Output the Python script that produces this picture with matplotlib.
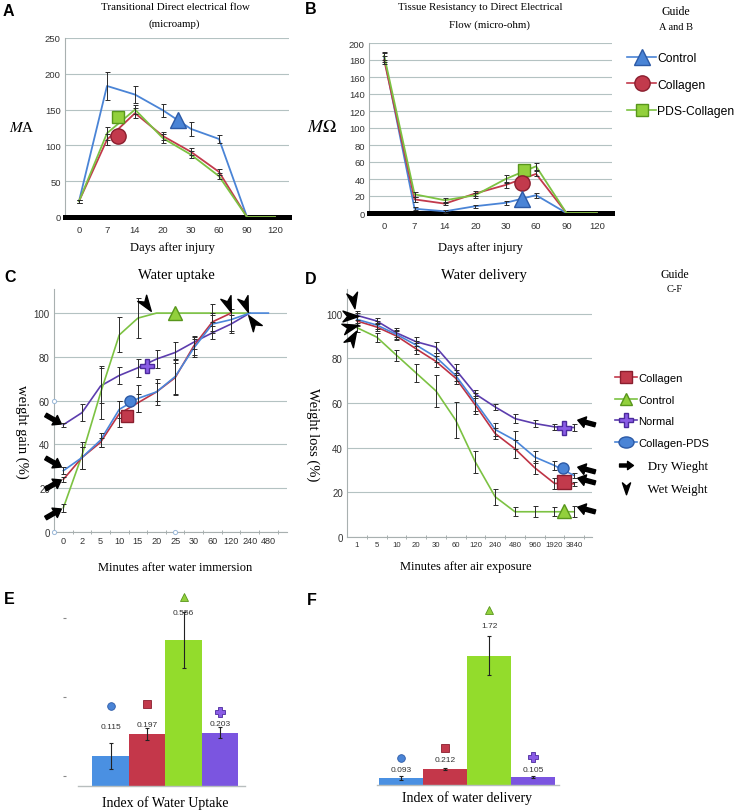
import numpy as np
import matplotlib.pyplot as plt
from matplotlib.lines import Line2D
from matplotlib.path import Path
from matplotlib.markers import MarkerStyle
from matplotlib.transforms import Affine2D

plt.rcParams['mathtext.fontset'] = 'stix'

W, H = 741, 812
SERIF = 'Liberation Serif'
SANS = 'Liberation Sans'
NARROW = ['Liberation Sans Narrow', 'Liberation Sans']

# ---- A / B : days after injury
days = ['0', '7', '14', '20', '30', '60', '90', '120']
a_control = [22, 183, 171, 149, 123, 109, 0, 0]
a_control_err = [2, 20, 12, 9, 10, 6, 0, 0]
a_collagen = [22, 108, 145, 113, 91, 63, 0, 0]
a_collagen_err = [2, 8, 7, 6, 5, 4, 0, 0]
a_pds = [22, 117, 150, 110, 87, 57, 0, 0]
a_pds_err = [2, 9, 6, 6, 5, 4, 0, 0]

b_control = [183, 5, 2, 8, 12, 21, 0, 0]
b_control_err = [5, 2, 1.5, 2, 2, 3, 0, 0]
b_collagen = [180, 16, 11, 23, 33, 46, 0, 0]
b_collagen_err = [5, 3, 2, 3, 4, 3, 0, 0]
b_pds = [185, 22, 15, 21, 40, 55, 0, 0]
b_pds_err = [5, 3, 3, 3, 5, 4, 0, 0]

# ---- C : water uptake
c_minutes = ['0', '2', '5', '10', '15', '20', '25', '30', '60', '120', '240', '480']
c_normal = [49, 54.5, 66.7, 71.5, 75, 79, 82, 86.7, 91, 95, 100]
c_normal_err = [1, 4, 8, 4, 4, 4, 5, 3, 3, 4, 0]
c_control = [11, 35, 63.6, 90, 97.7, 100, 100, 100, 100, 100, 100]
c_control_err = [2, 6, 12, 8, 9, 0, 0, 0, 4, 0, 0]
c_pds = [28, 34, 42, 56, 61, 64, 71, 84, 95, 97, 100, 100]
c_pds_err = [1.5, 5, 3, 4, 6, 6, 8, 4, 4, 5, 0, 0]
c_collagen = [24, 34, 41, 54, 59, 64, 70.5, 85, 96, 100]
c_collagen_err = [1, 5, 2, 6, 4, 4, 8, 4, 4, 0]

# ---- D : water delivery
d_minutes = ['1', '5', '10', '20', '30', '60', '120', '240', '480', '960', '1920', '3840']
d_normal = [99.2, 96.7, 91.4, 87.4, 85, 74.9, 64, 58.2, 53, 50.8, 49.3, 49]
d_normal_err = [2, 1.5, 2, 2, 2.5, 2.5, 2, 1.5, 2, 1.5, 1.5, 1.5]
d_pds = [97.4, 94.9, 90.7, 85.9, 80.5, 72.3, 60.3, 48.1, 43.3, 35.8, 32, 27.5]
d_pds_err = [3, 2, 2, 2, 2, 2.5, 4, 3, 4, 2.5, 2, 1]
d_collagen = [96.7, 94, 90, 84.2, 78.6, 71.1, 59, 46.3, 39.5, 31, 24, 23.8]
d_collagen_err = [2, 2, 2, 2.5, 2.5, 2.5, 4, 2.5, 4, 3, 2.5, 1]
d_control = [93.7, 89.5, 81.4, 73.4, 65.4, 52.3, 33.5, 18, 11.3, 11.3, 11.3, 11.3]
d_control_err = [2, 2, 2.5, 4, 7, 8, 5, 3.5, 2, 2.5, 2, 2.5]

# ---- E / F : indexes (order: Collagen-PDS, Collagen, Control, Normal)
e_values = [0.115, 0.197, 0.556, 0.203]
e_err = [0.05, 0.023, 0.107, 0.021]
f_values = [0.093, 0.212, 1.72, 0.105]
f_err = [0.025, 0.01, 0.26, 0.015]

# annotation layout (label markers / value text heights)
e_text_y = [0.229, 0.233, 0.664, 0.240]
e_mark_y = [0.305, 0.313, 0.720, 0.282]
f_text_y = [0.213, 0.333, 2.12, 0.213]
f_mark_y = [0.36, 0.49, 2.33, 0.37]

# colours
BLUE, BLUE_E = '#4A84D6', '#2C5AA6'
RED, RED_E = '#C23A4C', '#8A1E2E'
GREEN, GREEN_E = '#92D03C', '#58961C'
PURPLE, PURPLE_E = '#8A5CE6', '#4B2A9C'
L_BLUE, L_RED, L_GREEN, L_PURPLE = '#4A86DA', '#BE3345', '#7CC242', '#5C3DAE'
GRID = '#B4C2C2'


def rect(l, t, r, b):
    return [l / W, 1 - b / H, (r - l) / W, (b - t) / H]


def fx(x):
    return x / W


def fy(y):
    return 1 - y / H


# custom markers
wet_path = Path([(1, 0), (-0.9, 0.65), (-0.35, 0), (-0.9, -0.65), (1, 0)],
                [Path.MOVETO, Path.LINETO, Path.LINETO, Path.LINETO, Path.CLOSEPOLY])
dry_path = Path([(-1, -0.22), (0.15, -0.22), (0.15, -0.6), (1, 0), (0.15, 0.6),
                 (0.15, 0.22), (-1, 0.22), (-1, -0.22)],
                [Path.MOVETO] + [Path.LINETO] * 6 + [Path.CLOSEPOLY])


def wet(angle):
    return MarkerStyle(wet_path, transform=Affine2D().rotate_deg(angle))


def dry(angle):
    return MarkerStyle(dry_path, transform=Affine2D().rotate_deg(angle))


def errs(ax, x, y, e):
    idx = [i for i in range(len(y)) if e[i] > 0]
    ax.errorbar([x[i] for i in idx], [y[i] for i in idx], yerr=[e[i] for i in idx],
                fmt='none', ecolor='#2a2a2a', elinewidth=0.7, capsize=1.8, capthick=0.7, zorder=4)


fig = plt.figure(figsize=(W / 100, H / 100), dpi=100)


def ab_panel(box, series, ymax, ystep):
    ax = fig.add_axes(rect(*box))
    x = np.arange(len(days))
    for vals, er, col in series:
        ax.plot(x, vals, color=col, lw=1.3, zorder=3)
        errs(ax, x, vals, er)
    ax.set_xlim(-0.5, len(days) - 0.5)
    ax.set_ylim(0, ymax)
    ax.set_yticks(np.arange(0, ymax + 1, ystep))
    ax.set_xticks(x)
    ax.set_xticklabels(days)
    ax.grid(axis='y', color=GRID, lw=0.8)
    ax.set_axisbelow(True)
    for s in ['top', 'right']:
        ax.spines[s].set_visible(False)
    ax.spines['left'].set_color('#A8B0B0')
    ax.spines['left'].set_linewidth(0.8)
    ax.spines['bottom'].set_color('black')
    ax.spines['bottom'].set_linewidth(3.6)
    ax.tick_params(length=0, labelsize=6.8, labelcolor='#333333', pad=3)
    for t in ax.get_xticklabels() + ax.get_yticklabels():
        t.set_family(SANS)
    return ax


# ---------------- A
axA = ab_panel((65, 39, 289, 218),
               [(a_control, a_control_err, BLUE), (a_collagen, a_collagen_err, RED),
                (a_pds, a_pds_err, L_GREEN)], 250, 50)
axA.tick_params(axis='x', pad=6)
axA.plot([1.4], [140], 's', ms=8, mfc=GREEN, mec=GREEN_E, zorder=5)
axA.plot([1.4], [113], 'o', ms=11, mfc=RED, mec=RED_E, zorder=5)
axA.plot([3.55], [136], '^', ms=11, mfc=BLUE, mec=BLUE_E, zorder=5)

# ---------------- B
axB = ab_panel((369, 44, 612, 214),
               [(b_control, b_control_err, BLUE), (b_collagen, b_collagen_err, RED),
                (b_pds, b_pds_err, L_GREEN)], 200, 20)
axB.tick_params(axis='x', pad=6)
axB.plot([4.6], [51], 's', ms=8, mfc=GREEN, mec=GREEN_E, zorder=5)
axB.plot([4.55], [35], 'o', ms=11, mfc=RED, mec=RED_E, zorder=5)
axB.plot([4.55], [17], '^', ms=11, mfc=BLUE, mec=BLUE_E, zorder=5)


def cd_panel(box, labels, xlim, xsize):
    ax = fig.add_axes(rect(*box))
    ax.set_xlim(*xlim)
    ax.set_ylim(0, 111)
    ax.set_yticks(np.arange(0, 101, 20))
    ax.set_xticks(np.arange(len(labels)))
    ax.set_xticklabels(labels)
    ax.set_xticks(np.arange(len(labels)) + 0.5, minor=True)
    ax.grid(axis='y', color=GRID, lw=0.8)
    ax.set_axisbelow(True)
    for s in ['top', 'right']:
        ax.spines[s].set_visible(False)
    for s in ['left', 'bottom']:
        ax.spines[s].set_color('#A8B0B0')
        ax.spines[s].set_linewidth(0.8)
    ax.tick_params(axis='both', which='major', length=0, labelsize=7, labelcolor='#333333', pad=3)
    ax.tick_params(axis='x', which='major', labelsize=xsize)
    ax.tick_params(axis='x', which='minor', length=3, direction='inout', color='#A8B0B0', width=0.7)
    ax.tick_params(axis='y', which='minor', length=0)
    for t in ax.get_xticklabels() + ax.get_yticklabels():
        t.set_family(NARROW)
    return ax


# ---------------- C
axC = cd_panel((54, 290, 287, 533), c_minutes, (-0.5, 12.0), 6.6)
for vals, er, col in [(c_normal, c_normal_err, L_PURPLE), (c_control, c_control_err, L_GREEN),
                      (c_collagen, c_collagen_err, L_RED), (c_pds, c_pds_err, L_BLUE)]:
    xx = np.arange(len(vals))
    axC.plot(xx, vals, color=col, lw=1.2, zorder=3)
    errs(axC, xx, vals, er)
axC.plot([-0.5, 6, -0.5], [0, 0, 60], 'o', ms=3, mfc='white', mec='#9AB8D8', mew=0.7,
         clip_on=False, zorder=6)
axC.plot([6], [100], '^', ms=10, mfc=GREEN, mec=GREEN_E, zorder=5)
axC.plot([4.5], [76], 'P', ms=10, mfc=PURPLE, mec=PURPLE_E, zorder=5)
axC.plot([3.6], [60], 'o', ms=8, mfc=BLUE, mec=BLUE_E, zorder=5)
axC.plot([3.4], [53], 's', ms=8, mfc=RED, mec=RED_E, zorder=5)
# dry weight arrows and wet weight heads
for xa, ya, ang in [(-0.55, 51.5, -30), (-0.55, 32, -30), (-0.55, 22, 30), (-0.55, 8.5, 30)]:
    axC.plot([xa], [ya], marker=dry(ang), ms=13, color='black', ls='none', clip_on=False, zorder=7)
for xa, ya, ang in [(4.45, 104, -55), (8.85, 104, -70), (9.75, 104, -70), (10.2, 96, 125)]:
    axC.plot([xa], [ya], marker=wet(ang), ms=12, color='black', ls='none', clip_on=False, zorder=7)

# ---------------- D
axD = cd_panel((347, 290, 592, 538), d_minutes, (-0.5, 11.9), 5.6)
for vals, er, col in [(d_control, d_control_err, L_GREEN), (d_collagen, d_collagen_err, L_RED),
                      (d_pds, d_pds_err, L_BLUE), (d_normal, d_normal_err, L_PURPLE)]:
    xx = np.arange(len(vals))
    axD.plot(xx, vals, color=col, lw=1.2, zorder=3)
    errs(axD, xx, vals, er)
axD.plot([10.5], [49], 'P', ms=10, mfc=PURPLE, mec=PURPLE_E, zorder=5)
axD.plot([10.45], [31], 'o', ms=8, mfc=BLUE, mec=BLUE_E, zorder=5)
axD.plot([10.5], [24.5], 's', ms=10, mfc=RED, mec=RED_E, zorder=5)
axD.plot([10.5], [11.5], '^', ms=10, mfc=GREEN, mec=GREEN_E, zorder=5)
for xa, ya in [(11.6, 51.5), (11.6, 30.5), (11.6, 25.5), (11.6, 12.5)]:
    axD.plot([xa], [ya], marker=dry(165), ms=13, color='black', ls='none', clip_on=False, zorder=7)
for xa, ya, ang in [(-0.2, 106, -80), (-0.35, 99, 0), (-0.35, 94, 15), (-0.25, 89, 60)]:
    axD.plot([xa], [ya], marker=wet(ang), ms=12, color='black', ls='none', clip_on=False, zorder=7)


def bar_panel(box, vals, er, xlim, ymax, text_y, mark_y, labels_fmt):
    ax = fig.add_axes(rect(*box))
    xx = np.arange(len(vals))
    ax.bar(xx, vals, width=1.0, color=['#4A90E2', '#C4374A', '#93DC2C', '#7B55E0'],
           yerr=er, error_kw=dict(ecolor='#222222', elinewidth=0.8, capsize=1.5, capthick=0.8))
    ax.set_xlim(*xlim)
    ax.set_ylim(0, ymax)
    for s in ['top', 'right', 'left']:
        ax.spines[s].set_visible(False)
    ax.spines['bottom'].set_color('#B8BEBE')
    ax.spines['bottom'].set_linewidth(1.0)
    ax.set_xticks([])
    ax.set_yticks([])
    for i, v in enumerate(vals):
        ax.text(xx[i], text_y[i], labels_fmt[i], ha='center', va='center', fontsize=6,
                family=NARROW, color='#333333')
    mk = [('o', BLUE, BLUE_E, 5.5), ('s', RED, RED_E, 5.5), ('^', GREEN, GREEN_E, 5.5), ('P', PURPLE, PURPLE_E, 6.5)]
    for i, (m, fc, ec, ms) in enumerate(mk):
        ax.plot([xx[i]], [mark_y[i]], m, ms=ms, mfc=fc, mec=ec, mew=0.6, clip_on=False)
    return ax


axE = bar_panel((78, 590, 245, 787), e_values, e_err, (-0.89, 3.68), 0.752, e_text_y, e_mark_y,
                ['0.115', '0.197', '0.556', '0.203'])
axE.spines['left'].set_position(('outward', 9))
axE.set_yticks([0.04, 0.34, 0.64])
axE.set_yticklabels([])
axE.tick_params(axis='y', length=2, color='#888888', width=0.8)

axF = bar_panel((377, 590, 559, 786), f_values, f_err, (-0.55, 3.59), 2.61, f_text_y, f_mark_y,
                ['0.093', '0.212', '1.72', '0.105'])

# ---------------- texts
for ch, x, y in [('A', 8, 11), ('B', 311, 10), ('C', 10, 278), ('D', 311, 279), ('E', 9, 600), ('F', 312, 601)]:
    fig.text(fx(x), fy(y), ch, fontsize=11.5, weight='bold', family=SANS, ha='center', va='center')

fig.text(fx(175), fy(8), 'Transitional Direct electrical flow', fontsize=7.8, family=SERIF, ha='center', va='center')
fig.text(fx(174), fy(24), '(microamp)', fontsize=7.8, family=SERIF, ha='center', va='center')
fig.text(fx(480), fy(8), 'Tissue Resistancy to Direct Electrical', fontsize=7.8, family=SERIF, ha='center', va='center')
fig.text(fx(489), fy(25), 'Flow (micro-ohm)', fontsize=7.8, family=SERIF, ha='center', va='center')
fig.text(fx(172), fy(248), 'Days after injury', fontsize=9, family=SERIF, ha='center', va='center')
fig.text(fx(480), fy(248), 'Days after injury', fontsize=9, family=SERIF, ha='center', va='center')
fig.text(fx(22), fy(128), r'$\mathit{M}$A', fontsize=11, family=SERIF, ha='center', va='center')
fig.text(fx(322), fy(128), r'$\mathit{M}\Omega$', fontsize=13, family=SERIF, ha='center', va='center')

fig.text(fx(676), fy(12), 'Guide', fontsize=8.5, family=SERIF, ha='center', va='center')
fig.text(fx(676), fy(27), 'A and B', fontsize=7.5, family=SERIF, ha='center', va='center')
fig.text(fx(675), fy(275), 'Guide', fontsize=8.5, family=SERIF, ha='center', va='center')
fig.text(fx(675), fy(289), 'C-F', fontsize=7.5, family=SERIF, ha='center', va='center')

fig.text(fx(176), fy(276), 'Water uptake', fontsize=10.5, family=SERIF, ha='center', va='center')
fig.text(fx(484), fy(276), 'Water delivery', fontsize=10.5, family=SERIF, ha='center', va='center')
fig.text(fx(22), fy(432), 'weight gain (%)', fontsize=10.5, family=SERIF, ha='center', va='center', rotation=270)
fig.text(fx(313), fy(435), 'Weight loss (%)', fontsize=10.5, family=SERIF, ha='center', va='center', rotation=270)
fig.text(fx(175), fy(568), 'Minutes after water immersion', fontsize=9, family=SERIF, ha='center', va='center')
fig.text(fx(466), fy(567), 'Minutes after air exposure', fontsize=9, family=SERIF, ha='center', va='center')
fig.text(fx(165), fy(803), 'Index of Water Uptake', fontsize=10, family=SERIF, ha='center', va='center')
fig.text(fx(467), fy(798), 'Index of water delivery', fontsize=10, family=SERIF, ha='center', va='center')

# ---------------- legends
h_ab = [Line2D([0], [0], color=BLUE, lw=1.2, marker='^', ms=12, mfc=BLUE, mec=BLUE_E),
        Line2D([0], [0], color=RED, lw=1.2, marker='o', ms=11, mfc=RED, mec=RED_E),
        Line2D([0], [0], color=L_GREEN, lw=1.2, marker='s', ms=8, mfc=GREEN, mec=GREEN_E)]
fig.legend(h_ab, ['Control', 'Collagen', 'PDS-Collagen'], loc='upper left',
           bbox_to_anchor=(fx(627), fy(53)), frameon=False, handlelength=2.4, handletextpad=0.1,
           labelspacing=1.2, borderpad=0, borderaxespad=0, prop=dict(family=SANS, size=8.7))

ell = MarkerStyle('o', transform=Affine2D().scale(1.35, 1))
h_cf = [Line2D([0], [0], color=RED, lw=1.2, marker='s', ms=9, mfc=RED, mec=RED_E),
        Line2D([0], [0], color=L_GREEN, lw=1.2, marker='^', ms=9, mfc=GREEN, mec=GREEN_E),
        Line2D([0], [0], color=L_PURPLE, lw=1.2, marker='P', ms=10, mfc=PURPLE, mec=PURPLE_E),
        Line2D([0], [0], color=BLUE, lw=1.2, marker=ell, ms=8, mfc=BLUE, mec=BLUE_E),
        Line2D([0], [0], color='black', ls='none', marker=dry(0), ms=10),
        Line2D([0], [0], color='black', ls='none', marker=wet(-90), ms=9)]
leg = fig.legend(h_cf, ['Collagen', 'Control', 'Normal', 'Collagen-PDS', '   Dry Wieght', '   Wet Weight'],
                 loc='upper left', bbox_to_anchor=(fx(615), fy(374)), frameon=False, handlelength=2.0,
                 handletextpad=0.1, labelspacing=1.05, borderpad=0, borderaxespad=0,
                 prop=dict(family=SANS, size=8))
for t in leg.get_texts()[4:]:
    t.set_family(SERIF)
    t.set_fontsize(9.3)

fig.savefig('out.png', dpi=100)
